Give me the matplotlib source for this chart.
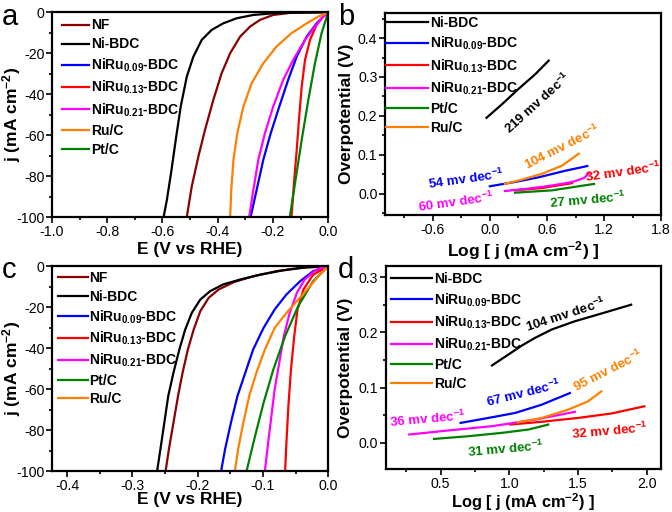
import matplotlib
matplotlib.use("Agg")
from matplotlib import pyplot as plt
from matplotlib.ticker import MultipleLocator

plt.rcParams['font.family'] = ['Liberation Sans', 'DejaVu Sans']
plt.rcParams['mathtext.fontset'] = 'custom'
plt.rcParams['mathtext.rm'] = 'Liberation Sans'
plt.rcParams['mathtext.bf'] = 'Liberation Sans:bold'
plt.rcParams['mathtext.default'] = 'bf'
plt.rcParams['axes.unicode_minus'] = False

# ---------------- data ----------------
# colours
C_NF = '#8b0000'
C_NI = 'black'
C_09 = '#0000ff'
C_13 = '#ff0000'
C_21 = '#ff00ff'
C_PT = '#008000'
C_RU = '#ff8000'

# panel a : LSV (E in V vs RHE, j in mA cm-2)
a_nf_E = [0.0, -0.139, -0.199, -0.247, -0.283, -0.319, -0.355, -0.386, -0.416, -0.446, -0.47, -0.494, -0.512]
a_nf_j = [0.0, -0.3, -1.3, -3.7, -7.0, -11.9, -20.0, -29.8, -42.8, -57.4, -70.4, -85.0, -100]
a_ni_E = [0.0, -0.10, -0.199, -0.271, -0.331, -0.380, -0.422, -0.458, -0.488, -0.512, -0.534, -0.552, -0.569, -0.584, -0.596]
a_ni_j = [0.0, -0.1, -0.5, -1.3, -2.9, -5.4, -8.6, -13.5, -21.6, -31.4, -46.0, -62.3, -78.5, -91.5, -100]
a_09_E = [0.0, -0.018, -0.042, -0.078, -0.114, -0.145, -0.177, -0.208, -0.235, -0.259, -0.281]
a_09_j = [0.0, -2.1, -5.4, -11.9, -21.6, -33.0, -46.0, -59.0, -72.0, -86.7, -100]
a_13_E = [0.0, -0.018, -0.042, -0.066, -0.084, -0.096, -0.105, -0.114, -0.124, -0.133]
a_13_j = [0.0, -2.1, -6.2, -13.5, -23.3, -36.3, -50.9, -67.2, -83.4, -100]
a_21_E = [0.0, -0.018, -0.048, -0.084, -0.127, -0.163, -0.199, -0.229, -0.253, -0.271, -0.286]
a_21_j = [0.0, -2.1, -7.0, -13.5, -23.3, -33.0, -46.0, -59.0, -72.0, -86.7, -100]
a_ru_E = [0.0, -0.036, -0.078, -0.133, -0.187, -0.235, -0.277, -0.307, -0.329, -0.343, -0.351, -0.355]
a_ru_j = [0.0, -2.1, -5.4, -10.2, -16.7, -24.9, -34.6, -46.0, -59.0, -72.0, -86.7, -100]
a_pt_E = [0.0, -0.024, -0.048, -0.072, -0.096, -0.120, -0.139]
a_pt_j = [0.0, -10.2, -24.9, -42.8, -62.3, -83.4, -100]

# panel b : Tafel
b_ni_x = [-0.035, 0.124, 0.30, 0.477, 0.618]
b_ni_y = [0.195, 0.229, 0.269, 0.307, 0.342]
b_09_x = [0.0, 0.265, 0.512, 0.794, 1.024]
b_09_y = [0.019, 0.030, 0.042, 0.059, 0.071]
b_13_x = [0.265, 0.547, 0.865]
b_13_y = [0.0085, 0.0144, 0.027]
b_21_x = [0.159, 0.406, 0.653, 0.865, 0.988, 1.04]
b_21_y = [0.0068, 0.013, 0.021, 0.030, 0.040, 0.052]
b_pt_x = [0.265, 0.653, 1.094]
b_pt_y = [0.0025, 0.0085, 0.025]
b_ru_x = [0.159, 0.335, 0.547, 0.759, 0.935]
b_ru_y = [0.025, 0.036, 0.051, 0.072, 0.103]

# panel c : LSV
c_nf_E = [0.0, -0.043, -0.079, -0.115, -0.145, -0.168, -0.183, -0.196, -0.206, -0.215, -0.223, -0.230, -0.237, -0.244, -0.249]
c_nf_j = [0.0, -0.8, -2.4, -4.9, -7.8, -11.4, -15.4, -22.0, -30.9, -40.7, -52.0, -63.4, -76.4, -89.4, -100]
c_ni_E = [0.0, -0.033, -0.069, -0.104, -0.135, -0.161, -0.181, -0.196, -0.209, -0.219, -0.228, -0.237, -0.245, -0.251, -0.257, -0.262]
c_ni_j = [0.0, -0.5, -2.0, -4.1, -6.5, -8.9, -12.2, -16.3, -22.8, -30.9, -40.7, -52.0, -63.4, -76.4, -89.4, -100]
c_09_E = [0.0, -0.023, -0.043, -0.064, -0.082, -0.099, -0.115, -0.127, -0.139, -0.149, -0.158, -0.164]
c_09_j = [0.0, -2.4, -7.3, -13.8, -21.1, -30.1, -40.7, -52.0, -63.4, -76.4, -89.4, -100]
c_13_E = [0.0, -0.023, -0.038, -0.047, -0.052, -0.057, -0.061, -0.064, -0.066]
c_13_j = [0.0, -4.1, -11.4, -21.1, -34.1, -50.4, -68.3, -86.2, -100]
c_21_E = [0.0, -0.018, -0.036, -0.048, -0.059, -0.068, -0.075, -0.082, -0.087, -0.092, -0.097]
c_21_j = [0.0, -1.6, -6.5, -13.0, -22.8, -34.1, -47.2, -60.2, -73.2, -86.2, -100]
c_pt_E = [0.0, -0.023, -0.046, -0.066, -0.084, -0.099, -0.112, -0.125]
c_pt_j = [0.0, -7.3, -19.5, -34.1, -50.4, -66.7, -82.9, -100]
c_ru_E = [0.0, -0.013, -0.028, -0.046, -0.064, -0.082, -0.097, -0.110, -0.121, -0.130, -0.138, -0.143]
c_ru_j = [0.0, -4.1, -9.8, -16.3, -22.8, -30.1, -40.7, -52.0, -63.4, -76.4, -89.4, -100]

# panel d : Tafel
d_ni_x = [0.873, 0.994, 1.090, 1.187, 1.307, 1.476, 1.669, 1.886]
d_ni_y = [0.140, 0.160, 0.176, 0.190, 0.205, 0.220, 0.234, 0.250]
d_09_x = [0.645, 0.825, 1.042, 1.235, 1.440]
d_09_y = [0.036, 0.044, 0.054, 0.069, 0.090]
d_13_x = [1.006, 1.235, 1.5, 1.741, 1.982]
d_13_y = [0.033, 0.038, 0.045, 0.053, 0.066]
d_21_x = [0.271, 0.584, 0.873, 1.187, 1.476]
d_21_y = [0.015, 0.023, 0.030, 0.042, 0.056]
d_pt_x = [0.452, 0.705, 0.946, 1.139, 1.283]
d_pt_y = [0.007, 0.012, 0.018, 0.024, 0.033]
d_ru_x = [1.061, 1.235, 1.428, 1.572, 1.669]
d_ru_y = [0.037, 0.045, 0.060, 0.075, 0.093]

L_NF = 'NF'
L_NI = 'Ni-BDC'
L_09 = r'NiRu$_{0.09}$-BDC'
L_13 = r'NiRu$_{0.13}$-BDC'
L_21 = r'NiRu$_{0.21}$-BDC'
L_PT = 'Pt/C'
L_RU = 'Ru/C'

# slope annotations: text, x, y, rotation, colour
b_notes = [
    ('219 mv dec$^{-1}$', 0.50, 0.232, 42, C_NI),
    ('104 mv dec$^{-1}$', 0.76, 0.12, 27, C_RU),
    ('54 mv dec$^{-1}$', -0.247, 0.038, 8, C_09),
    ('32 mv dec$^{-1}$', 1.394, 0.055, 8, C_13),
    ('60 mv dec$^{-1}$', -0.353, -0.021, 8, C_21),
    ('27 mv dec$^{-1}$', 1.024, -0.017, 5, C_PT),
]
d_notes = [
    ('104 mv dec$^{-1}$', 1.41, 0.232, 18, C_NI),
    ('67 mv dec$^{-1}$', 1.10, 0.090, 14, C_09),
    ('95 mv dec$^{-1}$', 1.717, 0.13, 27, C_RU),
    ('36 mv dec$^{-1}$', 0.404, 0.042, 5, C_21),
    ('32 mv dec$^{-1}$', 1.729, 0.021, 5, C_13),
    ('31 mv dec$^{-1}$', 0.97, -0.012, 5, C_PT),
]

#-----------------------------------------------------------------#

TICK_FS = 10.2
LAB_FS = 12.5
LEG_FS = 10
NOTE_FS = 9.5
LW = 1.6


def style(ax, xl, yl, xlab_y, ylab_x, xfs=LAB_FS):
    for s in ax.spines.values():
        s.set_linewidth(1.6)
    ax.tick_params(which='both', direction='out', width=1.2, labelsize=TICK_FS, pad=1.5)
    ax.tick_params(which='major', length=4)
    ax.tick_params(which='minor', length=2.5)
    ax.tick_params(top=False, right=False, which='both')
    ax.set_xlabel(xl, fontsize=xfs, fontweight='bold', va='center')
    ax.set_ylabel(yl, fontsize=LAB_FS, fontweight='bold', va='center')
    ax.xaxis.set_label_coords(0.5, xlab_y)
    ax.yaxis.set_label_coords(ylab_x, 0.5)


def legend(ax, hl, ts, ls, bx, by):
    ax.legend(loc='upper left', frameon=False,
              prop={'weight': 'bold', 'size': LEG_FS},
              handlelength=hl, handletextpad=ts, labelspacing=ls,
              borderaxespad=0, borderpad=0, bbox_to_anchor=(bx, by))


def notes(ax, items):
    for t, x, y, r, c in items:
        ax.text(x, y, t, color=c, rotation=r, fontsize=NOTE_FS, fontweight='bold',
                ha='center', va='center', rotation_mode='anchor')


fig = plt.figure(figsize=(6.72, 5.12), dpi=100)

# ---- a ----
ax = fig.add_axes([0.0774, 0.576, 0.411, 0.400])
ax.plot(a_nf_E, a_nf_j, color=C_NF, lw=LW, label=L_NF)
ax.plot(a_ni_E, a_ni_j, color=C_NI, lw=LW, label=L_NI)
ax.plot(a_09_E, a_09_j, color=C_09, lw=LW, label=L_09)
ax.plot(a_13_E, a_13_j, color=C_13, lw=LW, label=L_13)
ax.plot(a_21_E, a_21_j, color=C_21, lw=LW, label=L_21)
ax.plot(a_ru_E, a_ru_j, color=C_RU, lw=LW, label=L_RU)
ax.plot(a_pt_E, a_pt_j, color=C_PT, lw=LW, label=L_PT)
ax.set_xlim(-1.0, 0.0)
ax.set_ylim(-100, 0)
ax.xaxis.set_major_locator(MultipleLocator(0.2))
ax.xaxis.set_minor_locator(MultipleLocator(0.1))
ax.yaxis.set_major_locator(MultipleLocator(20))
ax.yaxis.set_minor_locator(MultipleLocator(10))
style(ax, 'E (V vs RHE)', r'j (mA cm$^{-2}$)', -0.16, -0.145)
legend(ax, 2.0, 0.1, 0.36, 0.035, 0.97)
fig.text(0.003, 0.995, 'a', fontsize=21, va='top')

# ---- b ----
ax = fig.add_axes([0.573, 0.580, 0.411, 0.395])
ax.plot(b_ni_x, b_ni_y, color=C_NI, lw=LW, label=L_NI)
ax.plot(b_09_x, b_09_y, color=C_09, lw=LW, label=L_09)
ax.plot(b_13_x, b_13_y, color=C_13, lw=LW, label=L_13)
ax.plot(b_21_x, b_21_y, color=C_21, lw=LW, label=L_21)
ax.plot(b_pt_x, b_pt_y, color=C_PT, lw=LW, label=L_PT)
ax.plot(b_ru_x, b_ru_y, color=C_RU, lw=LW, label=L_RU)
notes(ax, b_notes)
ax.set_xlim(-1.1, 1.8)
ax.set_ylim(-0.055, 0.465)
ax.xaxis.set_major_locator(MultipleLocator(0.6))
ax.xaxis.set_minor_locator(MultipleLocator(0.3))
ax.yaxis.set_major_locator(MultipleLocator(0.1))
ax.yaxis.set_minor_locator(MultipleLocator(0.05))
style(ax, r'Log [ j (mA cm$^{-2}$) ]', 'Overpotential (V)', -0.175, -0.141)
legend(ax, 3.0, 0.15, 0.36, 0.005, 0.985)
fig.text(0.503, 0.995, 'b', fontsize=21, va='top')

# ---- c ----
ax = fig.add_axes([0.0774, 0.080, 0.411, 0.400])
ax.plot(c_nf_E, c_nf_j, color=C_NF, lw=LW, label=L_NF)
ax.plot(c_ni_E, c_ni_j, color=C_NI, lw=LW, label=L_NI)
ax.plot(c_09_E, c_09_j, color=C_09, lw=LW, label=L_09)
ax.plot(c_13_E, c_13_j, color=C_13, lw=LW, label=L_13)
ax.plot(c_21_E, c_21_j, color=C_21, lw=LW, label=L_21)
ax.plot(c_pt_E, c_pt_j, color=C_PT, lw=LW, label=L_PT)
ax.plot(c_ru_E, c_ru_j, color=C_RU, lw=LW, label=L_RU)
ax.set_xlim(-0.423, 0.0)
ax.set_ylim(-100, 0)
ax.xaxis.set_major_locator(MultipleLocator(0.1))
ax.xaxis.set_minor_locator(MultipleLocator(0.05))
ax.yaxis.set_major_locator(MultipleLocator(20))
ax.yaxis.set_minor_locator(MultipleLocator(10))
style(ax, 'E (V vs RHE)', r'j (mA cm$^{-2}$)', -0.137, -0.145)
legend(ax, 2.2, 0.1, 0.32, 0.02, 0.975)
fig.text(0.003, 0.50, 'c', fontsize=21, va='top')

# ---- d ----
ax = fig.add_axes([0.574, 0.0834, 0.409, 0.397])
ax.plot(d_ni_x, d_ni_y, color=C_NI, lw=LW, label=L_NI)
ax.plot(d_09_x, d_09_y, color=C_09, lw=LW, label=L_09)
ax.plot(d_13_x, d_13_y, color=C_13, lw=LW, label=L_13)
ax.plot(d_21_x, d_21_y, color=C_21, lw=LW, label=L_21)
ax.plot(d_pt_x, d_pt_y, color=C_PT, lw=LW, label=L_PT)
ax.plot(d_ru_x, d_ru_y, color=C_RU, lw=LW, label=L_RU)
notes(ax, d_notes)
ax.set_xlim(0.1, 2.1)
ax.set_ylim(-0.048, 0.32)
ax.xaxis.set_major_locator(MultipleLocator(0.5))
ax.xaxis.set_minor_locator(MultipleLocator(0.25))
ax.yaxis.set_major_locator(MultipleLocator(0.1))
ax.yaxis.set_minor_locator(MultipleLocator(0.05))
style(ax, r'Log [ j (mA cm$^{-2}$) ]', 'Overpotential (V)', -0.162, -0.145, xfs=11.8)
legend(ax, 3.0, 0.15, 0.36, 0.018, 0.97)
fig.text(0.503, 0.50, 'd', fontsize=21, va='top')

fig.savefig('out.png', dpi=100)
